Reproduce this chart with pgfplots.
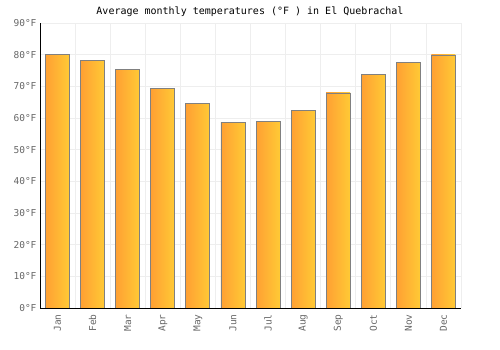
\documentclass[border=0pt]{standalone}
\usepackage{pgfplots}
\pgfplotsset{compat=1.18}
\usepackage{fontspec}
\setmainfont{DejaVu Sans Mono}
\definecolor{barL}{HTML}{FFA033}
\definecolor{barR}{HTML}{FFCA35}
\definecolor{gridc}{HTML}{EEEEEE}
\definecolor{tickc}{HTML}{666666}
\definecolor{edgec}{HTML}{808080}
\tikzset{mybar/.style={draw=edgec, line width=0.8pt, left color=barL, right color=barR}}
\begin{document}
\begin{tikzpicture}[x=1pt,y=1pt]
\useasboundingbox (0,0) rectangle (500,350);
\node[font=\fontsize{10}{12}\selectfont] at (250,338) {Average monthly temperatures (°F ) in El Quebrachal};
\begin{axis}[
  at={(40pt,42pt)}, anchor=south west,
  scale only axis, width=421pt, height=285pt,
  xmin=-0.5, xmax=11.5, ymin=0, ymax=90,
  xtick={0,...,11},
  xticklabels={Jan,Feb,Mar,Apr,May,Jun,Jul,Aug,Sep,Oct,Nov,Dec},
  x tick label style={rotate=90, anchor=east, xshift=-3pt, font=\fontsize{9.5}{11}\selectfont, text=tickc},
  ytick={0,10,...,90},
  yticklabel={\pgfmathprintnumber{\tick}°F},
  y tick label style={font=\fontsize{9.5}{11}\selectfont, text=tickc},
  /pgf/number format/assume math mode=true,
  minor xtick={0.5,1.5,...,11.5},
  xminorgrids, ymajorgrids,
  minor grid style={gridc, line width=0.8pt},
  major grid style={gridc, line width=0.8pt},
  axis x line*=bottom, axis y line*=left,
  axis line style={black, line width=0.8pt, -},
  major tick length=0pt, minor tick length=0pt,
  cycle list={{mybar}},
  ybar, bar width=24pt, bar shift=0pt,
]
\addplot+[mybar] coordinates {(0,80.1)};
\addplot+[mybar] coordinates {(1,78.2)};
\addplot+[mybar] coordinates {(2,75.4)};
\addplot+[mybar] coordinates {(3,69.4)};
\addplot+[mybar] coordinates {(4,64.6)};
\addplot+[mybar] coordinates {(5,58.6)};
\addplot+[mybar] coordinates {(6,59.0)};
\addplot+[mybar] coordinates {(7,62.4)};
\addplot+[mybar] coordinates {(8,67.9)};
\addplot+[mybar] coordinates {(9,73.8)};
\addplot+[mybar] coordinates {(10,77.6)};
\addplot+[mybar] coordinates {(11,79.9)};
\end{axis}
\end{tikzpicture}
\end{document}
